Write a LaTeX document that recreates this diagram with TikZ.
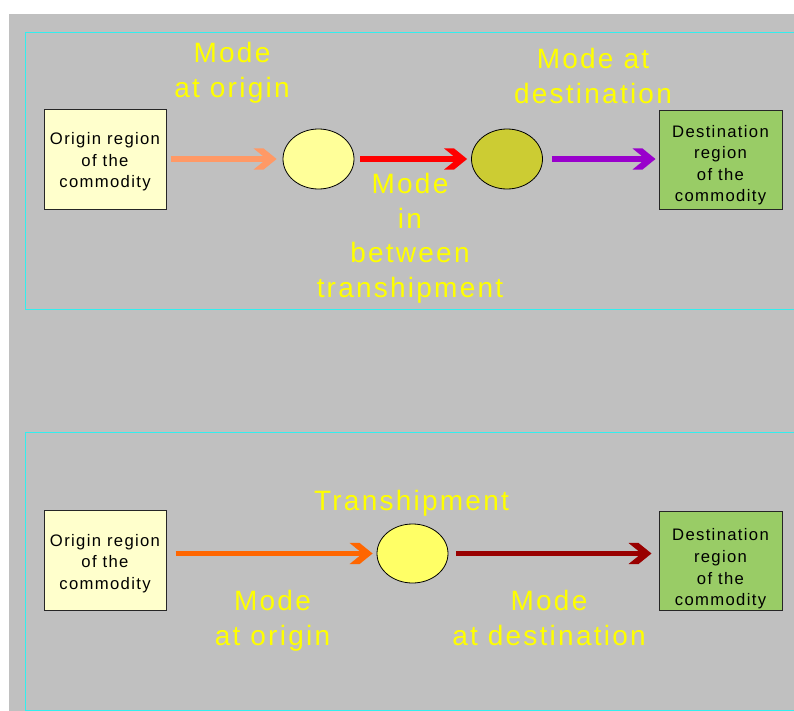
\documentclass[tikz,border=0pt]{standalone}
\usepackage{fontspec}
\setmainfont{Liberation Sans}
\newfontfamily\lblfont[LetterSpace=8]{Liberation Sans}
\newfontfamily\boxfont[LetterSpace=8]{Liberation Sans}
\usetikzlibrary{arrows.meta,shapes.geometric,calc}
\pgfdeclarearrow{
  name = Chev,
  setup code = {
    \pgfarrowssettipend{0pt}
    \pgfarrowssetlineend{-6.5pt}
    \pgfarrowssetbackend{-17.25pt}
    \pgfarrowsupperhullpoint{0pt}{0pt}
    \pgfarrowsupperhullpoint{-17.25pt}{7.9pt}
  },
  drawing code = {
    \pgfpathmoveto{\pgfqpoint{0pt}{0pt}}
    \pgfpathlineto{\pgfqpoint{-9.75pt}{7.9pt}}
    \pgfpathlineto{\pgfqpoint{-17.25pt}{7.9pt}}
    \pgfpathlineto{\pgfqpoint{-7.5pt}{0pt}}
    \pgfpathlineto{\pgfqpoint{-17.25pt}{-7.9pt}}
    \pgfpathlineto{\pgfqpoint{-9.75pt}{-7.9pt}}
    \pgfpathclose
    \pgfusepathqfill
  }
}
\definecolor{bggray}{HTML}{C0C0C0}
\definecolor{panelcyan}{HTML}{33EEEE}
\definecolor{origfill}{HTML}{FFFFCC}
\definecolor{destfill}{HTML}{99CC66}
\definecolor{ellA}{HTML}{FFFF99}
\definecolor{ellB}{HTML}{CCCC33}
\definecolor{ellC}{HTML}{FFFF66}
\definecolor{arrSalmon}{HTML}{FF9966}
\definecolor{arrRed}{HTML}{FF0000}
\definecolor{arrPurple}{HTML}{9900CC}
\definecolor{arrOrange}{HTML}{FF6600}
\definecolor{arrDark}{HTML}{990000}
\definecolor{lblyellow}{HTML}{FFFF00}
\tikzset{
  panel/.style={draw=panelcyan, line width=0.75pt},
  regbox/.style={draw=black!85, line width=0.75pt, align=center, inner sep=0pt,
    font=\boxfont\fontsize{12.5}{16.2}\selectfont},
  origbox/.style={regbox, fill=origfill, minimum width=91.5pt, minimum height=75pt},
  destbox/.style={regbox, fill=destfill, minimum width=92.25pt, minimum height=74.25pt},
  hub/.style={ellipse, draw=black, line width=0.6pt, minimum width=53.25pt, minimum height=45pt, inner sep=0pt},
  flow/.style={line width=4.25pt, -Chev},
  lbl/.style={text=lblyellow, font=\lblfont\fontsize{21}{26}\selectfont, align=center, inner sep=0pt, anchor=north}
}
\begin{document}
\begin{tikzpicture}[x=0.75pt,y=-0.75pt]
\useasboundingbox (0,0) rectangle (794,711);
\fill[white] (0,0) rectangle (794,711);
\fill[bggray] (9,14) rectangle (794,711);
\draw[panel] (796,32) -- (25,32) -- (25,309) -- (796,309);
\draw[panel] (796,432) -- (25,432) -- (25,710) -- (796,710);

% top panel
\node[origbox] (o1) at (105,159) {\rule{0pt}{13.5pt}Origin region\\of the\\commodity};
\node[hub, fill=ellA] (e1) at (318.5,159) {};
\node[hub, fill=ellB] (e2) at (507,159) {};
\node[destbox] (d1) at (720.5,159.5) {\rule{0pt}{17.5pt}Destination\\region\\of the\\commodity};
\draw[flow, arrSalmon, shorten <=3pt, shorten >=4.5pt] (o1.east) -- (e1.west);
\draw[flow, arrRed, shorten <=4.5pt, shorten >=3pt] (e1.east) -- (e2.west);
\draw[flow, arrPurple, shorten <=6.75pt, shorten >=2.25pt] (e2.east) -- (d1.west |- e2.east);

\node[lbl] (l1) at (232,42) {Mode\\at origin};
\node[lbl] (l2) at (593,48) {Mode at\\destination};
\node[lbl] (l3) at (410,173) {Mode\\in\\between\\transhipment};

% bottom panel
\node[origbox] (o2) at (105,560.5) {\rule{0pt}{13.5pt}Origin region\\of the\\commodity};
\node[hub, fill=ellC, minimum height=44.25pt] (e3) at (412.5,553.5) {};
\node[destbox] (d2) at (720.5,561) {\rule{0pt}{21pt}Destination\\region\\of the\\commodity};
\draw[flow, arrOrange, shorten <=6.75pt, shorten >=3pt] (o2.east |- e3.west) -- (e3.west);
\draw[flow, arrDark, shorten <=6pt, shorten >=5.25pt] (e3.east) -- (d2.west |- e3.east);

\node[lbl] (l4) at (411.5,490) {Transhipment};
\node[lbl] (l5) at (272.5,590) {Mode\\at origin};
\node[lbl] (l6) at (549,590) {Mode\\at destination};
\end{tikzpicture}
\end{document}
